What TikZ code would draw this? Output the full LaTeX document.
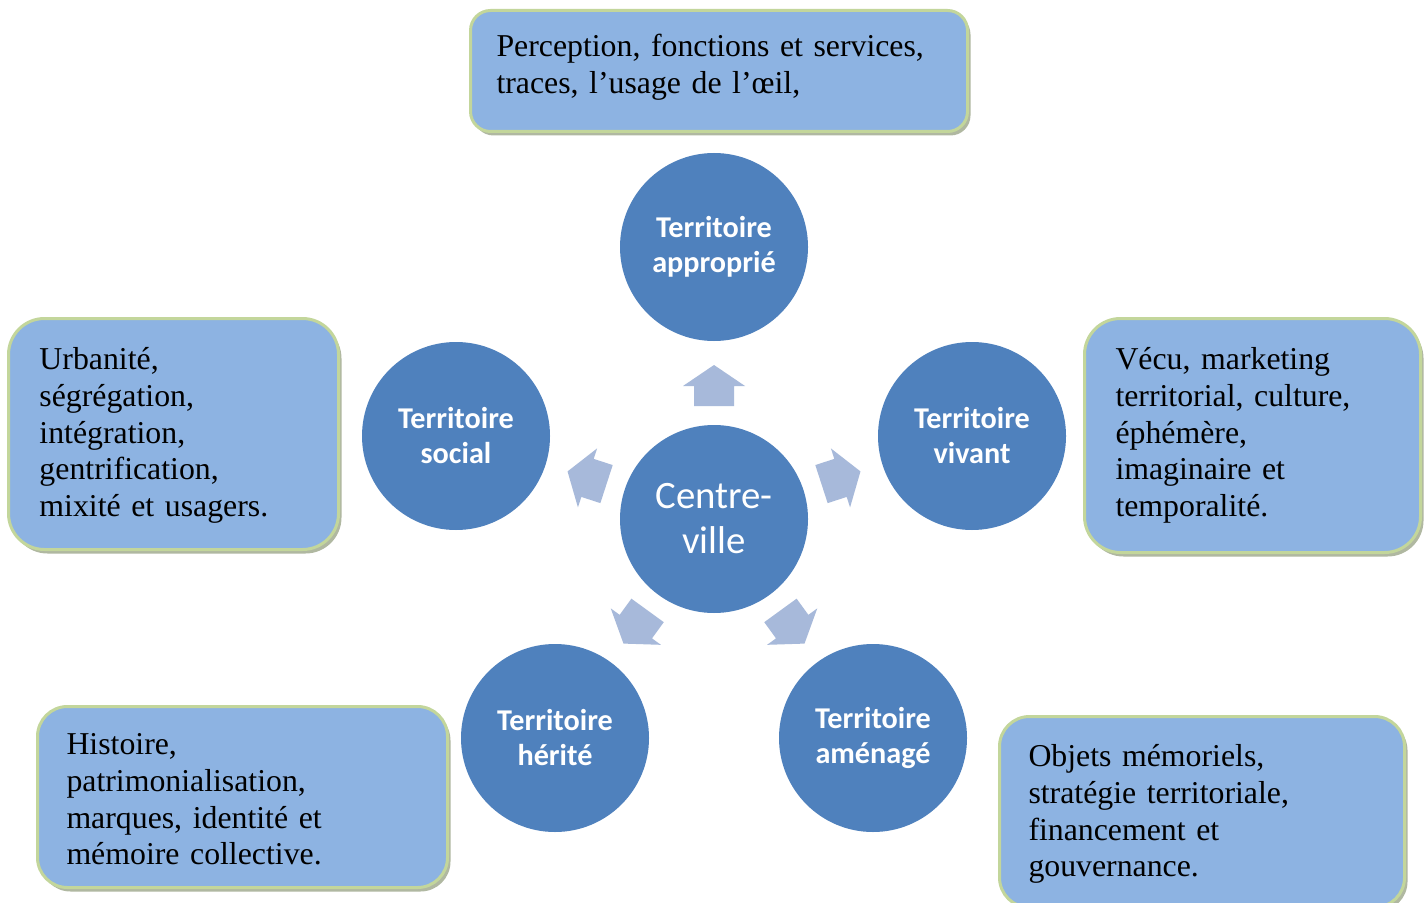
\documentclass[tikz,border=0pt]{standalone}
\usepackage{fontspec}
\setmainfont{Liberation Serif}
\newfontfamily\calfont{Carlito}
\usetikzlibrary{shadows,calc}
\definecolor{circblue}{HTML}{4F81BD}
\definecolor{arrowblue}{HTML}{A7B9DA}
\definecolor{boxblue}{HTML}{8DB3E2}
\definecolor{boxborder}{HTML}{C3D69B}
\definecolor{shadowc}{HTML}{8F9A7A}
\frenchspacing
\tikzset{
  circ/.style={circle, fill=circblue, minimum size=94pt, inner sep=0pt, text=white,
    font=\calfont\bfseries\fontsize{15.1}{17.5}\selectfont, align=center},
  centre/.style={circ, font=\calfont\fontsize{19.4}{22.5}\selectfont},
  infobox/.style={draw=boxborder, line width=1.5pt, fill=boxblue, anchor=north west,
    align=left, font=\frenchspacing\fontsize{15.9}{18.4}\selectfont, inner ysep=0pt,
    drop shadow={shadow xshift=1.5pt, shadow yshift=-2pt, fill=shadowc, opacity=0.7}},
  arrowfill/.style={fill=arrowblue}
}
\begin{document}
\begin{tikzpicture}[x=0.5pt, y=-0.5pt]
\useasboundingbox (0,0) rectangle (1427,903);
\clip (0,0) rectangle (1427,903);
\fill[white] (0,0) rectangle (1427,903);

% info boxes
\node[infobox, rounded corners=10pt, minimum width=248.5pt,
  text height=23pt, text depth=37.5pt,
  text width=222.5pt, inner xsep=13pt] (bap) at (469,9)
  {Perception, fonctions et services,\\ traces, l’usage de l’œil,};
\node[infobox, rounded corners=18pt, minimum width=165pt,
  text height=25.5pt, text depth=90pt,
  text width=134pt, inner xsep=15.5pt] (bso) at (7,317)
  {Urbanité,\\ ségrégation,\\ intégration,\\ gentrification,\\ mixité et usagers.};
\node[infobox, rounded corners=18pt, minimum width=168pt,
  text height=25.5pt, text depth=91.5pt,
  text width=137pt, inner xsep=15.5pt] (bvi) at (1083,317)
  {Vécu, marketing\\ territorial, culture,\\ éphémère,\\ imaginaire et\\ temporalité.};
\node[infobox, rounded corners=15pt, minimum width=205pt,
  text height=24pt, text depth=66.5pt,
  text width=176pt, inner xsep=14.5pt] (bhe) at (36,705)
  {Histoire,\\ patrimonialisation,\\ marques, identité et\\ mémoire collective.};
\node[infobox, rounded corners=15pt, minimum width=202.5pt,
  text height=25pt, text depth=70.5pt,
  text width=173.5pt, inner xsep=14.5pt] (bam) at (998,715)
  {Objets mémoriels,\\ stratégie territoriale,\\ financement et\\ gouvernance.};

% circles
\node[centre] (cv) at (714,519) {Centre-\\ville};
\node[circ] (ap) at (714,247) {Territoire\\approprié};
\node[circ] (so) at (456,436) {Territoire\\social};
\node[circ] (vi) at (972,436) {Territoire\\vivant};
\node[circ] (he) at (555,738) {Territoire\\hérité};
\node[circ] (am) at (873,738) {Territoire\\aménagé};

% block arrows
\foreach \a in {90,162,18,234,306}
  \fill[arrowfill, shift={(cv.center)}, rotate=\a]
    (113,-20) -- (133,-20) -- (133,-31) -- (154,0) -- (133,31) -- (133,20) -- (113,20) -- cycle;
\end{tikzpicture}
\end{document}
